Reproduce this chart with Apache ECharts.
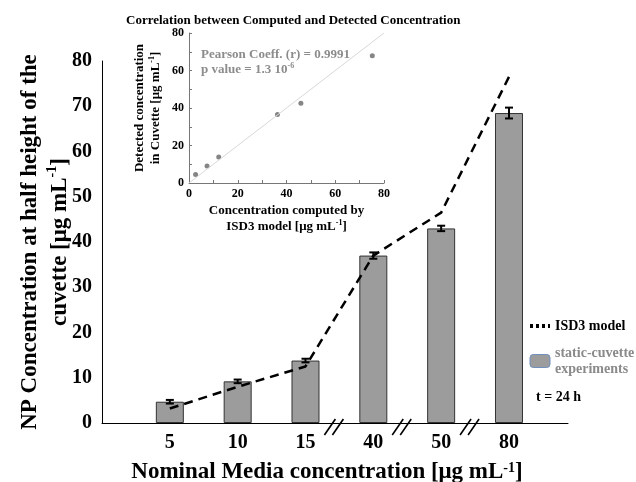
<!DOCTYPE html>
<html>
<head>
<meta charset="utf-8">
<script src="https://cdn.jsdelivr.net/npm/echarts@6/dist/echarts.min.js"></script>
<style>
  html, body { margin: 0; padding: 0; background: #fff; }
  #chart { width: 636px; height: 482px; }
</style>
</head>
<body>
<div id="chart"></div>
<script>
// main chart: nominal concentrations, measured bars (+ error) and ISD3 model line
let categories = ['5', '10', '15', '40', '50', '80'];
let measured = [4.7, 9.2, 13.8, 37.0, 43.0, 68.5];
let measuredErr = [0.4, 0.4, 0.4, 0.7, 0.6, 1.2];
let modelValues = [3.2, 8.0, 12.5, 37.0, 46.5, 76.5];
// axis breaks sit between these category slots
let breakAt = [3.5, 4.5, 5.5];

// inset: computed (ISD3) vs detected
let computed = [2.7, 7.4, 12.2, 36.3, 45.9, 75.2];
let detected = [4.6, 9.1, 13.9, 36.6, 42.5, 67.9];
let fitLine = [[0, 0], [80, 80]];

let serif = 'Liberation Serif';
let bold = { fontFamily: serif, fontWeight: 'bold', color: '#000' };

function richText(size, color) {
  return {
    b: { fontFamily: serif, fontWeight: 'bold', fontSize: size, color: color },
    s: { fontFamily: serif, fontWeight: 'bold', fontSize: Math.round(size * 0.6), color: color, verticalAlign: 'top' }
  };
}

let option = {
  animation: false,
  backgroundColor: '#fff',
  title: [
    {
      text: 'Correlation between Computed and Detected Concentration',
      left: 121, top: 9,
      textStyle: Object.assign({ fontSize: 13 }, bold)
    },
    {
      text: '{b|Pearson Coeff. (r) = 0.9991}\n{b|p value = 1.3 10}{s|-6}',
      left: 196, top: 42,
      textStyle: { lineHeight: 15, rich: richText(13, '#8c8c8c') }
    },
    {
      text: 't = 24 h',
      left: 531, top: 385,
      textStyle: Object.assign({ fontSize: 14 }, bold)
    }
  ],
  legend: {
    orient: 'vertical',
    left: 523, top: 313,
    itemWidth: 20, itemHeight: 13, itemGap: 11,
    textStyle: Object.assign({ fontSize: 14, lineHeight: 16 }, bold),
    formatter: function(name) {
      return name === 'static-cuvette experiments' ? 'static-cuvette\nexperiments' : name;
    },
    data: [
      {
        name: 'ISD3 model',
        lineStyle: { type: [3, 3], width: 4, color: '#000' },
        itemStyle: { color: 'rgba(0,0,0,0)', borderColor: 'rgba(0,0,0,0)', borderWidth: 0 }
      },
      {
        name: 'static-cuvette experiments',
        itemStyle: { color: '#9c9c9c', borderColor: '#6f8fbf', borderWidth: 1 },
        textStyle: { color: '#8a8a8a' }
      }
    ]
  },
  grid: [
    { left: 102, right: 68, top: 61, bottom: 59, outerBoundsMode: 'none' },
    { left: 189, top: 33, width: 195, height: 150, outerBoundsMode: 'none' }
  ],
  xAxis: [
    {
      type: 'value', gridIndex: 0,
      min: 0, max: 6.87, interval: 1,
      splitLine: { show: false },
      axisTick: { show: false },
      axisLine: { show: true, lineStyle: { color: '#000', width: 1 } },
      axisLabel: Object.assign({
        fontSize: 20, margin: 10, showMaxLabel: false,
        formatter: function(v) {
          return Number.isInteger(v) && v >= 1 ? (categories[v - 1] || '') : '';
        }
      }, bold),
      name: '{b|Nominal Media concentration [μg mL}{s|-1}{b|]}',
      nameLocation: 'middle', nameGap: 38, nameMoveOverlap: false,
      nameTextStyle: { padding: [0, 16, 0, 0], rich: richText(23, '#000') }
    },
    {
      type: 'value', gridIndex: 1,
      min: 0, max: 80, interval: 10,
      splitLine: { show: false },
      axisLine: { lineStyle: { color: '#777' } },
      axisTick: { inside: true, length: 3, lineStyle: { color: '#777' } },
      axisLabel: Object.assign({
        fontSize: 12, margin: 5,
        formatter: function(v) { return v % 20 === 0 ? v : ''; }
      }, bold),
      name: '{b|Concentration computed by}\n{b|ISD3 model [μg mL}{s|-1}{b|]}',
      nameLocation: 'middle', nameGap: 20,
      nameTextStyle: { lineHeight: 16, rich: richText(13, '#000') }
    }
  ],
  yAxis: [
    {
      type: 'value', gridIndex: 0,
      min: 0, max: 80, interval: 10,
      splitLine: { show: false },
      axisTick: { show: false },
      axisLine: { show: true, lineStyle: { color: '#000', width: 1 } },
      axisLabel: Object.assign({ fontSize: 20, margin: 10 }, bold),
      name: '{b|NP Concentration at half height of the}\n{b|cuvette [μg mL}{s|-1}{b|]}',
      nameLocation: 'middle', nameGap: 27, nameMoveOverlap: false,
      nameTextStyle: { lineHeight: 30, rich: richText(23, '#000') }
    },
    {
      type: 'value', gridIndex: 1,
      min: 0, max: 80, interval: 10,
      splitLine: { show: false },
      axisLine: { show: true, lineStyle: { color: '#777' } },
      axisTick: { show: true, inside: true, length: 3, lineStyle: { color: '#777' } },
      axisLabel: Object.assign({
        fontSize: 12, margin: 5,
        formatter: function(v) { return v % 20 === 0 ? v : ''; }
      }, bold),
      name: '{b|Detected concentration}\n{b|in Cuvette [μg mL}{s|-1}{b|]}',
      nameLocation: 'middle', nameGap: 25,
      nameTextStyle: { lineHeight: 16, rich: richText(13, '#000') }
    }
  ],
  series: [
    {
      name: 'static-cuvette experiments',
      type: 'bar', xAxisIndex: 0, yAxisIndex: 0,
      barWidth: 28,
      data: measured.map((v, i) => [i + 1, v]),
      itemStyle: { color: '#9c9c9c', borderColor: '#333', borderWidth: 1 }
    },
    {
      name: 'error',
      type: 'custom', xAxisIndex: 0, yAxisIndex: 0,
      data: measured.map((v, i) => [i + 1, v, measuredErr[i]]),
      encode: { x: 0, y: 1 },
      z: 5,
      renderItem: function(params, api) {
        let x = api.value(0);
        let hi = api.coord([x, api.value(1) + api.value(2)]);
        let lo = api.coord([x, api.value(1) - api.value(2)]);
        let w = 4;
        let st = { stroke: '#000', lineWidth: 2 };
        return {
          type: 'group',
          children: [
            { type: 'line', shape: { x1: hi[0], y1: hi[1], x2: lo[0], y2: lo[1] }, style: st },
            { type: 'line', shape: { x1: hi[0] - w, y1: hi[1], x2: hi[0] + w, y2: hi[1] }, style: st },
            { type: 'line', shape: { x1: lo[0] - w, y1: lo[1], x2: lo[0] + w, y2: lo[1] }, style: st }
          ]
        };
      }
    },
    {
      name: 'ISD3 model',
      type: 'line', xAxisIndex: 0, yAxisIndex: 0,
      data: modelValues.map((v, i) => [i + 1, v]),
      symbol: 'none',
      z: 6,
      lineStyle: { color: '#000', width: 2.5, type: [9, 6] }
    },
    {
      name: 'breaks',
      type: 'custom', xAxisIndex: 0, yAxisIndex: 0,
      data: breakAt.map(b => [b, 0]),
      encode: { x: 0, y: 1 },
      clip: false, z: 7,
      renderItem: function(params, api) {
        let p = api.coord([api.value(0), 0]);
        let st = { stroke: '#000', lineWidth: 1.6 };
        return {
          type: 'group',
          children: [0, 8].map(k => ({
            type: 'line',
            shape: { x1: p[0] - 15 + k, y1: p[1] + 12, x2: p[0] - 4 + k, y2: p[1] - 4 },
            style: st
          }))
        };
      }
    },
    {
      name: 'fit',
      type: 'line', xAxisIndex: 1, yAxisIndex: 1,
      data: fitLine,
      symbol: 'none',
      lineStyle: { color: '#d8d8d8', width: 1 }
    },
    {
      name: 'correlation',
      type: 'scatter', xAxisIndex: 1, yAxisIndex: 1,
      data: computed.map((v, i) => [v, detected[i]]),
      symbolSize: 5,
      itemStyle: { color: '#666' }
    }
  ]
};

let chart = echarts.init(document.getElementById('chart'));
chart.setOption(option);
</script>
</body>
</html>
